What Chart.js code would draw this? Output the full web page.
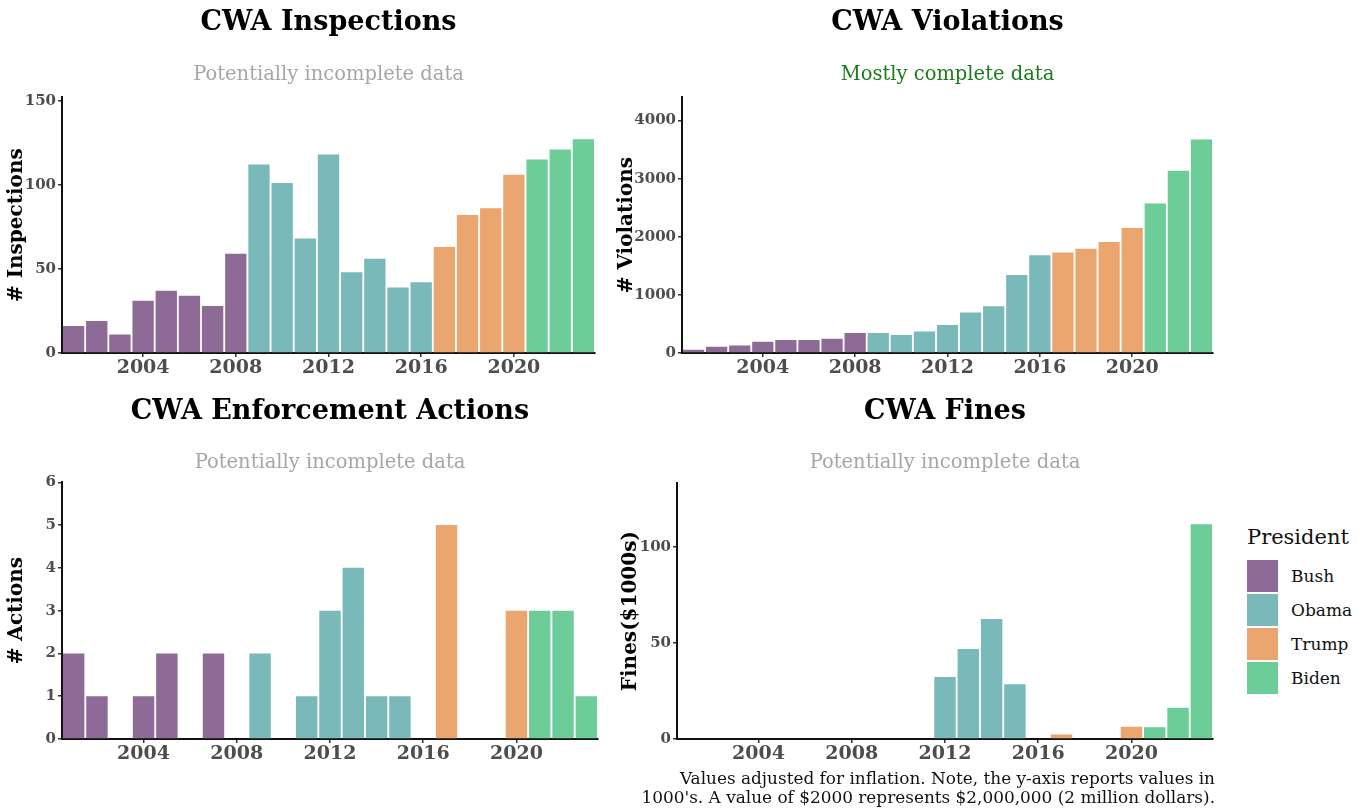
<!DOCTYPE html>
<html>
<head>
<meta charset="utf-8">
<script src="https://cdn.jsdelivr.net/npm/chart.js@4.4.1/dist/chart.umd.min.js"></script>
<style>
  body { margin: 0; background: #fff; width: 1359px; height: 811px; position: relative; overflow: hidden; font-family: 'DejaVu Serif', serif; }
  canvas { position: absolute; }
  .legend { position: absolute; left: 1247px; top: 523px; }
  .legend .ttl { font-size: 21px; color: #111; height: 36px; line-height: 28px; }
  .legend .row { height: 34px; display: flex; align-items: center; }
  .legend .sw { width: 31px; height: 32px; margin-right: 13px; }
  .legend .lab { font-size: 17px; color: #111; }
  .note { position: absolute; right: 144px; top: 769px; text-align: right; font-size: 16.9px; line-height: 19px; color: #111; }
</style>
</head>
<body>
<canvas id="c1" width="610" height="385" style="left:0;top:0"></canvas>
<canvas id="c2" width="620" height="385" style="left:612px;top:0"></canvas>
<canvas id="c3" width="610" height="385" style="left:0;top:386px"></canvas>
<canvas id="c4" width="620" height="385" style="left:612px;top:386px"></canvas>

<div class="legend" id="legend">
  <div class="ttl">President</div>
</div>
<div class="note">Values adjusted for inflation. Note, the y-axis reports values in<br>1000's. A value of $2000 represents $2,000,000 (2 million dollars).</div>

<script>
const years = [2001, 2002, 2003, 2004, 2005, 2006, 2007, 2008, 2009, 2010, 2011, 2012,
               2013, 2014, 2015, 2016, 2017, 2018, 2019, 2020, 2021, 2022, 2023];
const presidents = ['Bush', 'Bush', 'Bush', 'Bush', 'Bush', 'Bush', 'Bush', 'Bush',
                    'Obama', 'Obama', 'Obama', 'Obama', 'Obama', 'Obama', 'Obama', 'Obama',
                    'Trump', 'Trump', 'Trump', 'Trump', 'Biden', 'Biden', 'Biden'];
const presidentNames = ['Bush', 'Obama', 'Trump', 'Biden'];
const presidentColors = ['#8e6a96', '#79b9b9', '#eba56f', '#6ccd99'];

const inspections = [16, 19, 11, 31, 37, 34, 28, 59, 112, 101, 68, 118,
                     48, 56, 39, 42, 63, 82, 86, 106, 115, 121, 127];
const violations = [57, 109, 131, 194, 223, 223, 246, 343, 343, 309, 371, 480,
                    697, 806, 1343, 1680, 1731, 1794, 1909, 2149, 2571, 3137, 3674];
const actions = [2, 1, 0, 1, 2, 0, 2, 0, 2, 0, 1, 3, 4, 1, 1, 0, 5, 0, 0, 3, 3, 3, 1];
const fines = [0, 0, 0, 0, 0, 0, 0, 0, 0, 0, 0, 32.2,
               46.8, 62.4, 28.5, 0, 2.3, 0, 0, 6.4, 6.1, 16.3, 111.7];

const inspectionTicks = [0, 50, 100, 150];
const violationTicks = [0, 1000, 2000, 3000, 4000];
const actionTicks = [0, 1, 2, 3, 4, 5, 6];
const fineTicks = [0, 50, 100];
const yearTicks = [2004, 2008, 2012, 2016, 2020];

const barColors = presidents.map(p => presidentColors[presidentNames.indexOf(p)]);

const serif = "'DejaVu Serif', serif";
const grey = '#4d4d4d';

function makeChart(id, o) {
  return new Chart(document.getElementById(id), {
    type: 'bar',
    data: {
      labels: years,
      datasets: [{
        data: o.values,
        backgroundColor: barColors,
        borderWidth: 0,
        barPercentage: 1,
        categoryPercentage: 0.92
      }]
    },
    options: {
      responsive: false,
      animation: false,
      layout: { padding: { left: 0, right: o.rightPad, top: 0, bottom: 0 } },
      plugins: {
        legend: { display: false },
        tooltip: { enabled: false },
        title: {
          display: true,
          text: o.title,
          fullSize: false,
          color: '#000',
          font: { family: serif, size: 27, weight: 'bold' },
          padding: { top: o.titleTop, bottom: o.titleBottom }
        },
        subtitle: {
          display: true,
          text: o.subtitle,
          fullSize: false,
          color: o.subColor,
          font: { family: serif, size: 19.5, weight: 'normal' },
          padding: { top: 0, bottom: o.subBottom }
        }
      },
      scales: {
        x: {
          grid: {
            offset: false,
            drawOnChartArea: false,
            tickLength: 4,
            lineWidth: 1.5,
            color: ctx => (ctx.tick && yearTicks.includes(ctx.tick.value + years[0])) ? '#333' : 'rgba(0,0,0,0)'
          },
          border: { display: true, color: '#111', width: 2 },
          ticks: {
            autoSkip: false,
            maxRotation: 0,
            padding: 0,
            color: grey,
            font: { family: serif, size: 19, weight: 'bold' },
            callback: function (v) { return yearTicks.includes(years[v]) ? String(years[v]) : ''; }
          },
          afterFit: s => { s.height = 32; }
        },
        y: {
          min: 0,
          max: o.yMax,
          grid: { drawOnChartArea: false, tickLength: 4, color: '#333', lineWidth: 1.5 },
          border: { display: true, color: '#111', width: 2 },
          ticks: {
            padding: 2,
            color: grey,
            font: { family: serif, size: 15, weight: 'bold' },
            callback: v => String(v)
          },
          afterBuildTicks: s => { s.ticks = o.yTicks.map(v => ({ value: v })); },
          afterFit: s => { s.width = o.yWidth; },
          title: {
            display: true,
            text: o.yTitle,
            color: '#000',
            font: { family: serif, size: 20, weight: 'bold' },
            padding: { top: o.yTitlePad, bottom: 0 }
          }
        }
      }
    }
  });
}

makeChart('c1', {
  values: inspections, yMax: 152, yTicks: inspectionTicks,
  title: 'CWA Inspections', subtitle: 'Potentially incomplete data', subColor: '#a6a6a6',
  yTitle: '# Inspections', yWidth: 62, yTitlePad: 5, rightPad: 15,
  titleTop: 7, titleBottom: 24, subBottom: 10.5
});
makeChart('c2', {
  values: violations, yMax: 4400, yTicks: violationTicks,
  title: 'CWA Violations', subtitle: 'Mostly complete data', subColor: '#1b7b1b',
  yTitle: '# Violations', yWidth: 70, yTitlePad: 3, rightPad: 19,
  titleTop: 7, titleBottom: 24, subBottom: 10.5
});
makeChart('c3', {
  values: actions, yMax: 6, yTicks: actionTicks,
  title: 'CWA Enforcement Actions', subtitle: 'Potentially incomplete data', subColor: '#a6a6a6',
  yTitle: '# Actions', yWidth: 62, yTitlePad: 5, rightPad: 12,
  titleTop: 10, titleBottom: 23, subBottom: 7.5
});
makeChart('c4', {
  values: fines, yMax: 133, yTicks: fineTicks,
  title: 'CWA Fines', subtitle: 'Potentially incomplete data', subColor: '#a6a6a6',
  yTitle: 'Fines($1000s)', yWidth: 65, yTitlePad: 7, rightPad: 19,
  titleTop: 10, titleBottom: 23, subBottom: 8.5
});

// legend built from the same president names / colours
const legend = document.getElementById('legend');
presidentNames.forEach((name, i) => {
  const row = document.createElement('div');
  row.className = 'row';
  row.innerHTML = '<div class="sw" style="background:' + presidentColors[i] + '"></div><span class="lab">' + name + '</span>';
  legend.appendChild(row);
});
</script>
</body>
</html>
